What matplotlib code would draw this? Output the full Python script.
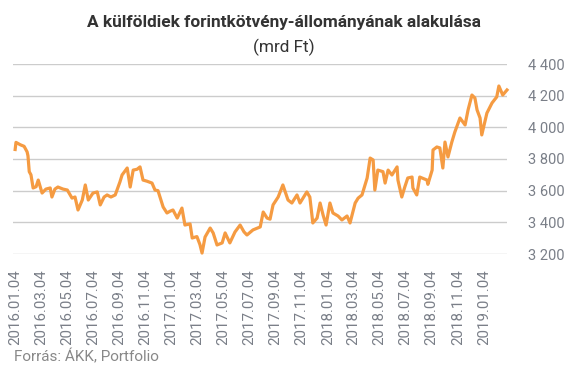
import matplotlib
matplotlib.use("Agg")
import matplotlib.pyplot as plt
import matplotlib.dates as mdates
import pandas as pd

plt.rcParams['font.family'] = ['Roboto', 'DejaVu Sans']

# data (mrd Ft)
dates = [
    "2016-01-04", "2016-01-06", "2016-01-16", "2016-01-25", "2016-02-01", "2016-02-03",
    "2016-02-06", "2016-02-10", "2016-02-15", "2016-02-22", "2016-02-27", "2016-03-07",
    "2016-03-16", "2016-03-26", "2016-03-30", "2016-04-06", "2016-04-13", "2016-04-25",
    "2016-05-05", "2016-05-16", "2016-05-23", "2016-05-30", "2016-06-09", "2016-06-16",
    "2016-06-23", "2016-07-04", "2016-07-14", "2016-07-21", "2016-07-30", "2016-08-06",
    "2016-08-15", "2016-08-25", "2016-09-05", "2016-09-10", "2016-09-22", "2016-09-29",
    "2016-10-06", "2016-10-15", "2016-10-22", "2016-10-29", "2016-11-07", "2016-11-19",
    "2016-11-26", "2016-12-03", "2016-12-15", "2016-12-24", "2016-12-31", "2017-01-07",
    "2017-01-17", "2017-01-28", "2017-02-04", "2017-02-16", "2017-02-21", "2017-03-04",
    "2017-03-11", "2017-03-16", "2017-03-23", "2017-04-04", "2017-04-11", "2017-04-20",
    "2017-05-02", "2017-05-09", "2017-05-20", "2017-06-01", "2017-06-13", "2017-06-22",
    "2017-06-29", "2017-07-13", "2017-07-30", "2017-08-06", "2017-08-15", "2017-08-22",
    "2017-08-29", "2017-09-10", "2017-09-21", "2017-10-03", "2017-10-12", "2017-10-24",
    "2017-10-31", "2017-11-16", "2017-11-23", "2017-11-30", "2017-12-10", "2017-12-17",
    "2017-12-24", "2017-12-31", "2018-01-09", "2018-01-16", "2018-01-28", "2018-02-06",
    "2018-02-18", "2018-02-25", "2018-03-09", "2018-03-16", "2018-03-25", "2018-04-06",
    "2018-04-13", "2018-04-20", "2018-04-24", "2018-05-01", "2018-05-13", "2018-05-18",
    "2018-05-25", "2018-06-03", "2018-06-15", "2018-06-17", "2018-06-26", "2018-07-03",
    "2018-07-10", "2018-07-20", "2018-07-22", "2018-07-31", "2018-08-07", "2018-08-24",
    "2018-08-26", "2018-09-05", "2018-09-07", "2018-09-16", "2018-09-23", "2018-09-30",
    "2018-10-05", "2018-10-12", "2018-10-21", "2018-10-28", "2018-11-09", "2018-11-21",
    "2018-11-28", "2018-12-07", "2018-12-14", "2018-12-19", "2018-12-26", "2018-12-30",
    "2019-01-11", "2019-01-23", "2019-02-03", "2019-02-08", "2019-02-17", "2019-02-27",
]
values = [
    3860, 3905, 3890, 3880, 3845, 3820,
    3720, 3700, 3617, 3625, 3667, 3585,
    3610, 3617, 3560, 3610, 3623, 3610,
    3604, 3553, 3560, 3478, 3541, 3636,
    3541, 3585, 3592, 3510, 3560, 3573,
    3560, 3573, 3655, 3699, 3743, 3623,
    3730, 3735, 3750, 3667, 3660, 3648,
    3604, 3600, 3497, 3459, 3470, 3478,
    3427, 3490, 3383, 3390, 3301, 3310,
    3260, 3206, 3307, 3364, 3333, 3257,
    3270, 3333, 3270, 3339, 3383, 3340,
    3320, 3352, 3371, 3465, 3427, 3420,
    3510, 3560, 3636, 3541, 3522, 3573,
    3522, 3592, 3560, 3396, 3427, 3522,
    3446, 3383, 3522, 3459, 3440, 3415,
    3440, 3396, 3522, 3553, 3573, 3680,
    3806, 3794, 3604, 3730, 3720, 3648,
    3730, 3699, 3750, 3667, 3560, 3623,
    3680, 3686, 3617, 3573, 3686, 3667,
    3640, 3730, 3857, 3876, 3870, 3743,
    3907, 3813, 3907, 3970, 4059, 4015,
    4110, 4204, 4185, 4110, 4059, 3952,
    4090, 4154, 4192, 4261, 4204, 4236,
]
yticks = [3200, 3400, 3600, 3800, 4000, 4200, 4400]
tick_dates = pd.date_range("2016-01-01", "2019-01-01", freq="2MS") + pd.Timedelta(days=3)

dates = pd.to_datetime(dates)

fig = plt.figure(figsize=(5.67, 3.78), dpi=100)
ax = fig.add_axes([13 / 567, 1 - 254 / 378, 494 / 567, 190 / 378])

ax.plot(dates, values, color="#F59B42", linewidth=2.3, clip_on=False, zorder=3)

ax.set_ylim(3200, 4400)
ax.set_xlim(pd.Timestamp("2015-12-30"), pd.Timestamp("2019-02-27"))
ax.set_yticks(yticks)
ax.set_yticklabels([f"{v:,}".replace(",", " ") for v in yticks])
ax.yaxis.tick_right()
ax.set_xticks(tick_dates)
ax.xaxis.set_major_formatter(mdates.DateFormatter("%Y.%m.%d"))

ax.tick_params(axis="y", length=0, pad=15, labelsize=10.5, labelcolor="#7a7f88")
ax.tick_params(axis="x", length=0, pad=11, labelsize=10.8, labelcolor="#7a7f88",
               rotation=90)
for lab in ax.get_xticklabels():
    lab.set_verticalalignment("top")

ax.grid(axis="y", color="#cccccc", linewidth=1)
ax.grid(axis="x", visible=False)
ax.set_axisbelow(True)
for s in ax.spines.values():
    s.set_visible(False)

fig.text(0.5, 1 - 22 / 378, "A külföldiek forintkötvény-állományának alakulása",
         ha="center", va="center", fontsize=12.4, fontweight="bold", color="#333333")
fig.text(0.5, 1 - 47 / 378, "(mrd Ft)", ha="center", va="center",
         fontsize=12.4, color="#333333")
fig.text(14 / 567, 1 - 357 / 378, "Forrás: ÁKK, Portfolio", ha="left", va="center",
         fontsize=11, color="#888888")

fig.savefig("out.png", dpi=100)
